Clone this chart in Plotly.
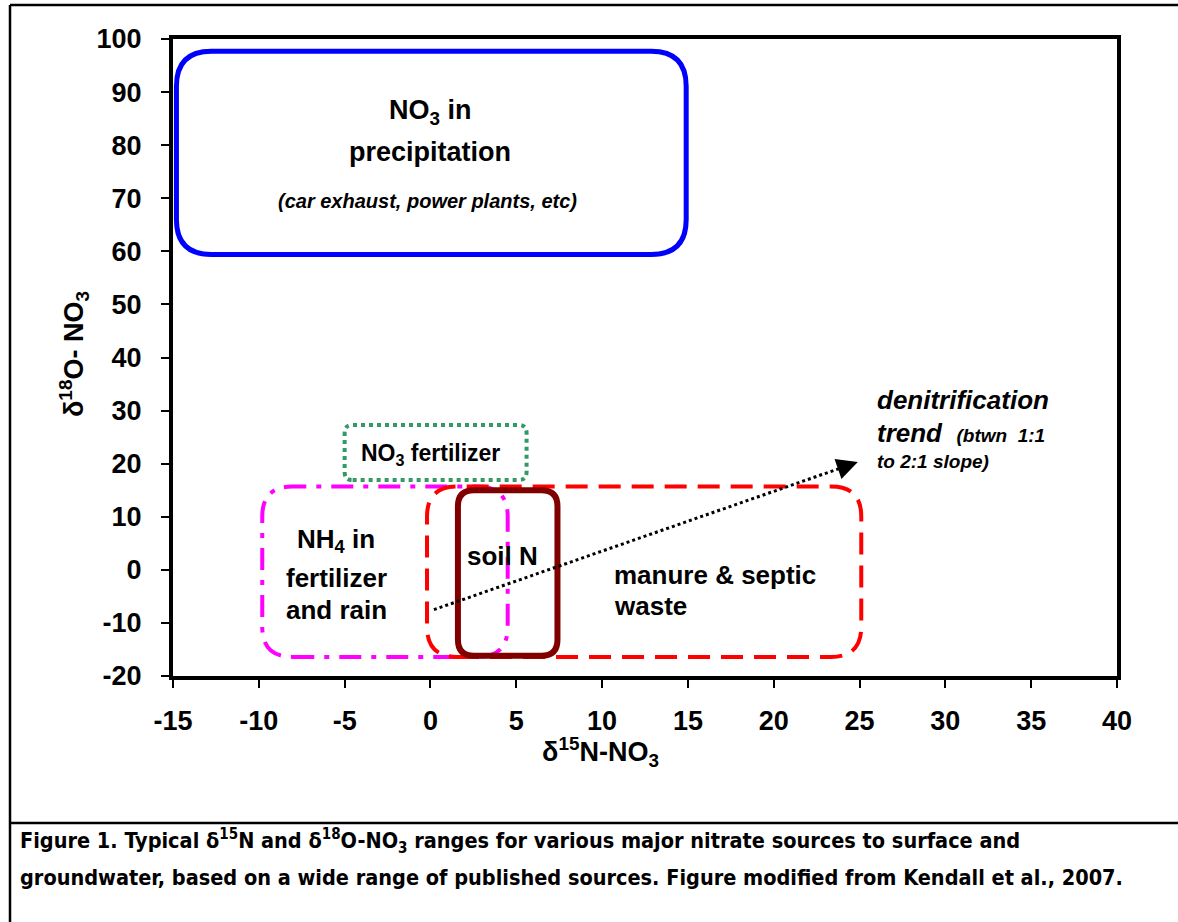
import plotly.graph_objects as go
import math

# ---------------- data ----------------
x_range = [-15, 40]
y_range = [-20, 100]
x_ticks = [-15, -10, -5, 0, 5, 10, 15, 20, 25, 30, 35, 40]
x_tick_labels = ["-15", "-10", "-5", "0", "5", "10", "15", "20", "25", "30", "35", "40"]
y_ticks = [-20, -10, 0, 10, 20, 30, 40, 50, 60, 70, 80, 90, 100]
y_tick_labels = ["-20", "-10", "0", "10", "20", "30", "40", "50", "60", "70", "80", "90", "100"]

# nitrate source boxes (data units)
box_x0 = [-14.8, -5.0, -9.8, -0.2, 1.6]
box_x1 = [14.9, 5.6, 4.5, 25.1, 7.4]
box_y0 = [59.4, 16.9, -16.4, -16.4, -16.2]
box_y1 = [97.7, 27.3, 15.7, 15.7, 15.0]
box_colors = ["#0000FF", "#339966", "#FF00FF", "#FF0000", "#800000"]
box_dash = ["solid", "4px,4px", "22px,10px,5px,10px", "22px,11px", "solid"]
box_width = [5, 4, 4, 4, 6]
box_radius_px = [35, 8, 30, 30, 16]

# denitrification trend arrow
trend_x = [0.2, 24.9]
trend_y = [-7.5, 20.3]

# text labels
lbl_text = ["NO<sub>3</sub> in", "precipitation", "<i>(car exhaust, power plants, etc)</i>",
            "NO<sub>3</sub> fertilizer",
            "NH<sub>4</sub> in", "fertilizer", "and rain",
            "soil N",
            "manure &amp; septic", "waste",
            "<i>denitrification</i>",
            "<i>trend  <span style='font-size:19px'>(btwn  1:1</span></i>",
            "<i>to 2:1 slope)</i>"]
lbl_x = [0.0, 0.0, -0.15, 0.0, -5.5, -5.5, -5.5, 4.2, 10.6, 10.6, 25.9, 25.9, 25.9]
lbl_y = [86.2, 78.7, 69.5, 21.8, 5.6, -1.5, -7.6, 2.6, -1.0, -6.8, 32.0, 25.8, 20.5]
lbl_size = [27, 27, 20, 23, 26, 26, 26, 26, 26, 26, 26, 26, 19]
lbl_anchor = ["center", "center", "center", "center", "center", "center", "center",
              "center", "left", "left", "left", "left", "left"]

caption_lines = [
    "Figure 1. Typical δ<sup>15</sup>N and δ<sup>18</sup>O-NO<sub>3</sub> ranges for various major nitrate sources to surface and",
    "groundwater, based on a wide range of published sources. Figure modified from Kendall et al., 2007.",
]

# ---------------- layout geometry ----------------
W, H = 1178, 922
L, R, T, B = 173, 1117, 39, 676
pw, ph = R - L, B - T
xs = pw / (x_range[1] - x_range[0])
ys = ph / (y_range[1] - y_range[0])


def px(p):
    return (p - L) / pw


def py(p):
    return (B - p) / ph


def rrect(x0, x1, y0, y1, r):
    rx, ry = r / xs, r / ys
    return (f"M{x0+rx},{y0} L{x1-rx},{y0} Q{x1},{y0} {x1},{y0+ry} "
            f"L{x1},{y1-ry} Q{x1},{y1} {x1-rx},{y1} L{x0+rx},{y1} "
            f"Q{x0},{y1} {x0},{y1-ry} L{x0},{y0+ry} Q{x0},{y0} {x0+rx},{y0} Z")


FONT = "Arial, Liberation Sans, sans-serif"

fig = go.Figure()
fig.add_trace(go.Scatter(x=[None], y=[None], showlegend=False))

shapes = []
for i in range(len(box_x0)):
    shapes.append(dict(type="path", xref="x", yref="y",
                       path=rrect(box_x0[i], box_x1[i], box_y0[i], box_y1[i], box_radius_px[i]),
                       line=dict(color=box_colors[i], width=box_width[i], dash=box_dash[i])))

# trend arrow: dotted shaft + head
dxp = (trend_x[1] - trend_x[0]) * xs
dyp = (trend_y[1] - trend_y[0]) * ys
lp = math.hypot(dxp, dyp)
back = 14
ax_ = trend_x[1] - back * dxp / lp / xs
ay_ = trend_y[1] - back * dyp / lp / ys
shapes.append(dict(type="line", xref="x", yref="y", x0=trend_x[0], y0=trend_y[0],
                   x1=ax_, y1=ay_, line=dict(color="black", width=3, dash="3px,3px")))

# outer frame
shapes.append(dict(type="line", xref="paper", yref="paper", x0=px(10), x1=px(10),
                   y0=py(5), y1=py(925), line=dict(color="black", width=2.5)))
shapes.append(dict(type="line", xref="paper", yref="paper", x0=px(10), x1=px(1185),
                   y0=py(5), y1=py(5), line=dict(color="black", width=2.5)))
shapes.append(dict(type="line", xref="paper", yref="paper", x0=px(10), x1=px(1185),
                   y0=py(823), y1=py(823), line=dict(color="black", width=2.5)))

annotations = []
for t, x, y, s, a in zip(lbl_text, lbl_x, lbl_y, lbl_size, lbl_anchor):
    annotations.append(dict(text=f"<b>{t}</b>", x=x, y=y, xref="x", yref="y",
                            xanchor=a, yanchor="middle", showarrow=False,
                            font=dict(family=FONT, size=s, color="black")))

annotations.append(dict(x=trend_x[1], y=trend_y[1], ax=ax_, ay=ay_, xref="x", yref="y",
                        axref="x", ayref="y", text="", showarrow=True, arrowhead=2,
                        arrowsize=1.4, arrowwidth=3, arrowcolor="black"))

# axis titles
annotations.append(dict(text="<b>δ<sup>15</sup>N-NO<sub>3</sub></b>", x=px(600), y=py(752),
                        xref="paper", yref="paper", showarrow=False, xanchor="center",
                        yanchor="middle", font=dict(family=FONT, size=27, color="black")))
annotations.append(dict(text="<b>δ<sup>18</sup>O- NO<sub>3</sub></b>", x=px(74), y=py(354),
                        xref="paper", yref="paper", showarrow=False, xanchor="center",
                        yanchor="middle", textangle=-90,
                        font=dict(family=FONT, size=27, color="black")))

# caption
for line, yy in zip(caption_lines, [841, 877]):
    annotations.append(dict(text=f"<b>{line}</b>", x=px(18), y=py(yy), xref="paper",
                            yref="paper", showarrow=False, xanchor="left", yanchor="middle",
                            font=dict(family="Liberation Sans Narrow, DejaVu Sans Condensed, sans-serif",
                                      size=21.5, color="black")))

axis_common = dict(showline=True, linecolor="black", linewidth=4, mirror=True,
                   ticks="outside", ticklen=8, tickwidth=2, tickcolor="black",
                   showgrid=False, zeroline=False,
                   tickfont=dict(family=FONT, size=27, color="black", weight="bold"))

fig.update_layout(
    width=W, height=H,
    margin=dict(l=L, r=W - R, t=T, b=H - B, pad=0),
    paper_bgcolor="white", plot_bgcolor="white",
    showlegend=False,
    xaxis=dict(range=x_range, tickvals=x_ticks, ticktext=x_tick_labels,
               ticklabelstandoff=10, **axis_common),
    yaxis=dict(range=y_range, tickvals=y_ticks, ticktext=y_tick_labels,
               ticklabelstandoff=14, **axis_common),
    shapes=shapes,
    annotations=annotations,
)

fig.write_html("out.html")
